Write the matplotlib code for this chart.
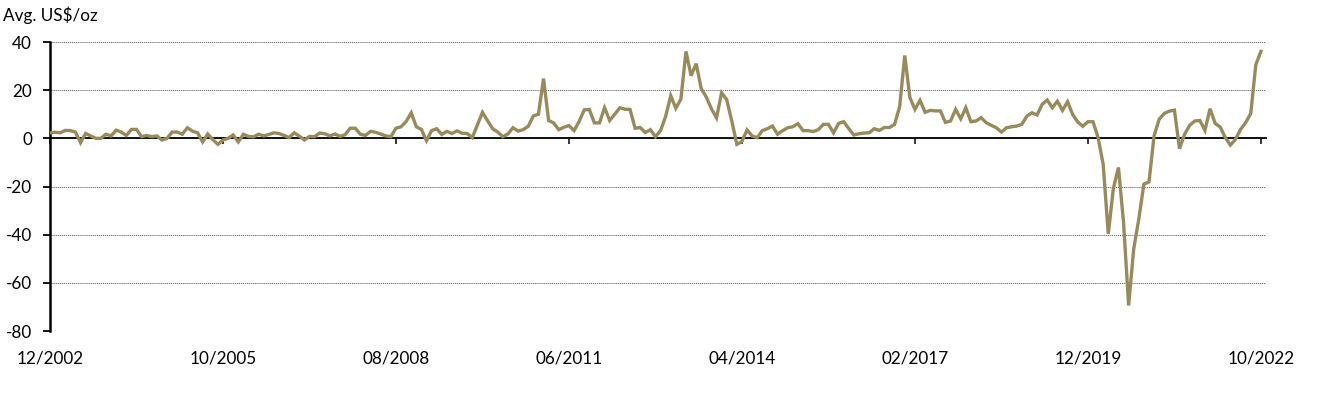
import matplotlib
matplotlib.use("Agg")
from matplotlib import pyplot as plt

# Monthly average, US$/oz, 12/2002 .. 10/2022
values_2002_2007 = [
    2.3, 2.5, 2.3, 3.3, 3.2, 2.6, -1.8, 2.0, 1.0, 0.0,
    0.0, 1.7, 1.0, 3.4, 2.6, 1.2, 3.7, 3.7, 0.7, 1.2,
    0.7, 1.0, -0.7, 0.0, 2.6, 2.6, 1.7, 4.4, 3.0, 2.3,
    -1.5, 1.8, -0.5, -2.5, -0.7, 0.0, 1.4, -1.5, 1.7, 0.8,
    0.6, 1.7, 1.0, 1.6, 2.3, 2.0, 1.2, 0.3, 2.3, 0.9,
    -0.7, 0.8, 0.7, 2.2, 1.9,
]
values_2007_2012 = [
    1.0, 1.8, 0.8, 1.5, 4.2, 4.2, 1.7, 1.2, 2.9, 2.5,
    1.8, 1.0, 0.7, 4.2, 4.8, 7.0, 10.6, 4.8, 3.7, -1.0,
    3.2, 4.0, 1.6, 2.9, 2.0, 3.1, 2.1, 2.0, 0.3, 5.5,
    10.8, 7.3, 4.0, 2.6, 0.7, 1.8, 4.4, 3.0, 3.6, 5.0,
    9.3, 10.0, 24.8, 7.4, 6.4, 3.6, 4.6, 5.3, 3.2, 7.0,
    11.8, 12.0, 6.4, 6.4, 12.7, 7.4, 10.0, 12.7, 12.1, 12.0,
    4.2, 4.5, 2.4,
]
values_2012_2022 = [
    3.6, 0.7, 3.2, 9.1, 17.7, 12.5, 16.3, 36.1, 26.0, 31.0,
    20.6, 17.1, 12.3, 8.5, 18.9, 16.1, 7.2, -2.5, -1.3, 3.5,
    1.0, 0.3, 3.2, 4.0, 5.1, 1.7, 3.2, 4.4, 4.8, 6.1,
    3.2, 3.2, 2.8, 3.6, 5.8, 5.8, 2.3, 6.2, 6.9, 4.0,
    1.4, 1.9, 2.2, 2.3, 4.0, 3.3, 4.5, 4.5, 5.8, 13.2,
    34.4, 17.0, 12.0, 15.8, 10.8, 11.6, 11.4, 11.4, 6.6, 7.2,
    12.0, 8.1, 12.7, 6.9, 7.2, 8.6, 6.5, 5.4, 4.4, 2.6,
    4.4, 4.8, 5.1, 5.8, 9.2, 10.6, 9.7, 14.1, 15.9, 12.7,
    15.4, 11.6, 15.2, 9.9, 6.8, 5.0, 6.9, 6.9, 0.3, -10.8,
    -39.7, -20.8, -12.1, -34.9, -69.4, -45.9, -33.5, -19.0, -18.1, 1.0,
    7.9, 10.3, 11.3, 11.7, -4.3, 1.7, 5.4, 7.2, 7.4, 3.3,
    12.3, 6.2, 4.7, 0.3, -2.8, -0.4, 3.7, 6.5, 10.3, 30.6,
    36.1,
]
values = values_2002_2007 + values_2007_2012 + values_2012_2022

tick_labels = ["12/2002", "10/2005", "08/2008", "06/2011",
               "04/2014", "02/2017", "12/2019", "10/2022"]
y_ticks = [40, 20, 0, -20, -40, -60, -80]

plt.rcParams['font.family'] = ['Lato', 'DejaVu Sans']
plt.rcParams['axes.unicode_minus'] = False
line_color = '#998A5C'
font_size = 12.3

fig = plt.figure(figsize=(13.18, 3.95), dpi=100)
ax = fig.add_axes([50 / 1318, 64 / 395, 1216 / 1318, 289 / 395])

months = list(range(len(values)))
ax.plot(months, values, color=line_color, linewidth=2.4, solid_joinstyle='miter', zorder=3)

ax.set_xlim(0, 239)
ax.set_ylim(-80, 40)
ax.set_yticks(y_ticks)
ax.set_xticks(list(range(0, len(values), 34)))
ax.set_xticklabels(tick_labels)

# dotted horizontal gridlines
ax.yaxis.grid(True, linestyle=(0, (1, 1)), color='#555555', linewidth=0.7)
ax.set_axisbelow(True)

for side in ['top', 'right']:
    ax.spines[side].set_visible(False)
ax.spines['bottom'].set_position(('data', 0))
ax.spines['bottom'].set_linewidth(1.3)
ax.spines['left'].set_linewidth(1.8)

ax.tick_params(axis='y', direction='out', length=5, width=1.3, pad=8,
               labelsize=font_size)
ax.tick_params(axis='x', direction='out', length=4.5, width=1.1, pad=148,
               labelsize=font_size)

fig.text(3 / 1318, 1 - 15 / 395, "Avg. US$/oz", fontsize=font_size, va='center', ha='left')

fig.savefig('out.png', dpi=100)
